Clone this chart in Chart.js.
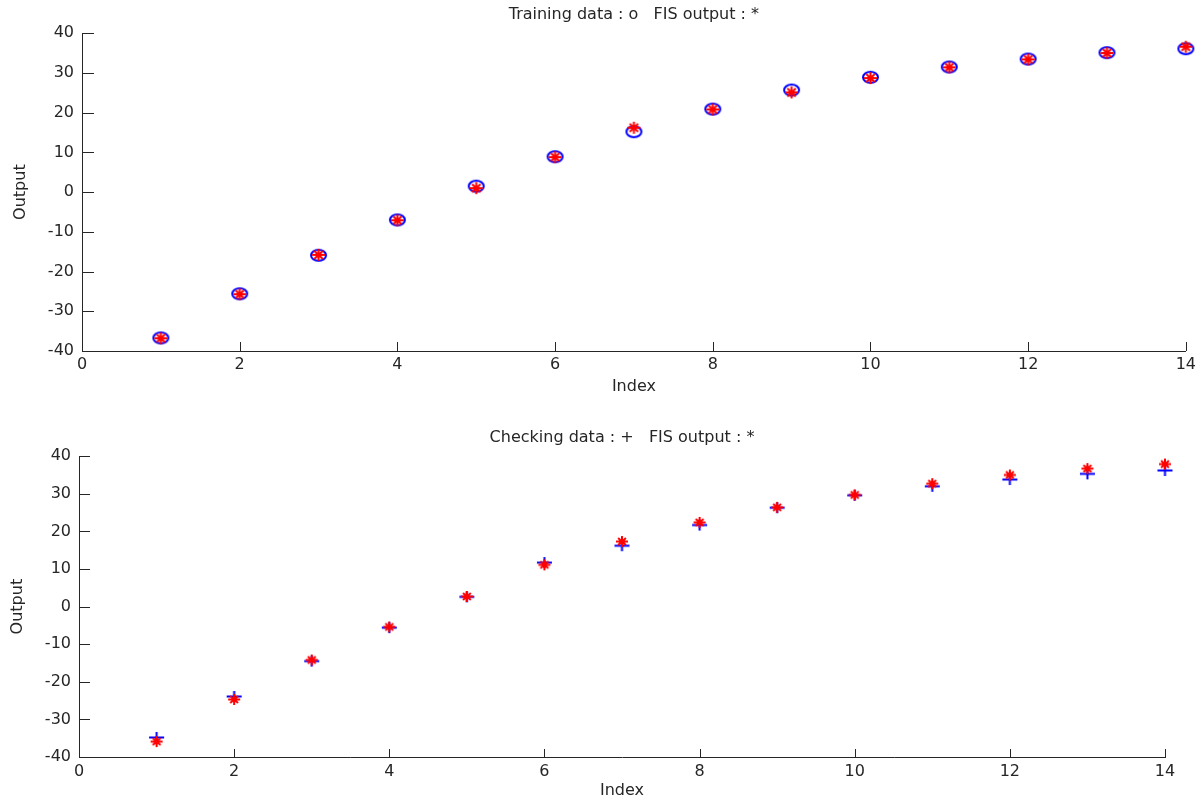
<!DOCTYPE html>
<html>
<head>
<meta charset="utf-8">
<script src="https://cdn.jsdelivr.net/npm/chart.js@4.4.0/dist/chart.umd.min.js"></script>
<style>
  html, body { margin: 0; padding: 0; background: #fff; }
  #wrap { position: relative; width: 1200px; height: 798px; overflow: hidden; }
  .box { position: absolute; left: 0; width: 1200px; }
  #topBox { top: 0; height: 400px; }
  #bottomBox { top: 400px; height: 400px; }
</style>
</head>
<body>
<div id="wrap">
  <div class="box" id="topBox"><canvas id="topChart"></canvas></div>
  <div class="box" id="bottomBox"><canvas id="bottomChart"></canvas></div>
</div>
<script>
// data
const indexValues = [1, 2, 3, 4, 5, 6, 7, 8, 9, 10, 11, 12, 13, 14];
const trainingData = [-36.7, -25.6, -15.9, -7.0, 1.5, 8.9, 15.2, 20.9, 25.7, 28.9, 31.5, 33.5, 35.1, 36.1];
const trainingFis = [-36.8, -25.7, -15.8, -7.1, 1.0, 8.8, 16.2, 20.8, 25.1, 28.7, 31.4, 33.4, 35.0, 36.6];
const checkingData = [-34.8, -23.9, -14.5, -5.6, 2.6, 11.7, 16.2, 21.7, 26.3, 29.6, 32.0, 33.8, 35.3, 36.2];
const checkingFis = [-35.9, -24.7, -14.2, -5.4, 2.7, 11.1, 17.3, 22.4, 26.4, 29.7, 32.7, 35.0, 36.7, 37.9];
const xTicks = [0, 2, 4, 6, 8, 10, 12, 14];
const yTicks = [-40, -30, -20, -10, 0, 10, 20, 30, 40];

const textColor = '#262626';
const axisColor = '#262626';
const fontFamily = '"DejaVu Sans", "Liberation Sans", Arial, sans-serif';
const fontSize = 16;

// matlab style markers (slightly wider than tall, like the screenshot)
function makeMarker(kind, color, w, h) {
  const c = document.createElement('canvas');
  c.width = w + 4;
  c.height = h + 4;
  const g = c.getContext('2d');
  g.strokeStyle = color;
  g.lineWidth = 2;
  const cx = c.width / 2, cy = c.height / 2, rx = w / 2, ry = h / 2;
  g.beginPath();
  if (kind === 'circle') {
    g.ellipse(cx, cy, rx, ry, 0, 0, Math.PI * 2);
  } else {
    g.moveTo(cx - rx, cy); g.lineTo(cx + rx, cy);
    g.moveTo(cx, cy - ry); g.lineTo(cx, cy + ry);
    if (kind === 'star') {
      const dx = rx * 0.65, dy = ry * 0.65;
      g.moveTo(cx - dx, cy - dy); g.lineTo(cx + dx, cy + dy);
      g.moveTo(cx - dx, cy + dy); g.lineTo(cx + dx, cy - dy);
    }
  }
  g.stroke();
  return c;
}

function toPoints(values) {
  return indexValues.map((x, i) => ({x: x, y: values[i]}));
}

// ticks pointing into the plot, like matlab
const inwardTicks = {
  id: 'inwardTicks',
  beforeDatasetsDraw(chart, args, opts) {
    const {ctx, chartArea} = chart;
    const xs = chart.scales.x, ys = chart.scales.y;
    ctx.save();
    ctx.strokeStyle = axisColor;
    ctx.lineWidth = 1;
    ctx.beginPath();
    xs.ticks.forEach(t => {
      const px = Math.round(xs.getPixelForValue(t.value)) + 0.5;
      ctx.moveTo(px, chartArea.bottom);
      ctx.lineTo(px, chartArea.bottom - opts.xLen);
    });
    ys.ticks.forEach(t => {
      const py = Math.round(ys.getPixelForValue(t.value)) + 0.5;
      ctx.moveTo(chartArea.left, py);
      ctx.lineTo(chartArea.left + opts.yLen, py);
    });
    ctx.stroke();
    ctx.restore();
  }
};

function drawPanel(id, s) {
  const config = {
    type: 'scatter',
    data: {
      datasets: [{
        label: 'FIS output',
        data: toPoints(s.fis),
        pointStyle: makeMarker('star', '#ff0000', s.starW, s.starH),
        clip: false
      }, {
        label: s.dataLabel,
        data: toPoints(s.values),
        pointStyle: makeMarker(s.marker, '#0000ff', s.markW, s.markH),
        clip: false
      }]
    },
    options: {
      responsive: true,
      maintainAspectRatio: false,
      animation: false,
      events: [],
      layout: {padding: {left: 0, right: s.padRight, top: 0, bottom: 0}},
      plugins: {
        legend: {display: false},
        tooltip: {enabled: false},
        title: {
          display: true,
          fullSize: false,
          text: s.title,
          color: textColor,
          font: {family: fontFamily, size: fontSize, weight: 'normal'},
          padding: {top: s.titleTop, bottom: s.titleBottom}
        },
        inwardTicks: {xLen: s.xTickLen, yLen: s.yTickLen}
      },
      scales: {
        x: {
          type: 'linear',
          min: 0,
          max: 14,
          afterBuildTicks: sc => { sc.ticks = xTicks.map(v => ({value: v})); },
          afterFit: sc => { sc.height = s.xHeight; },
          grid: {display: false, drawTicks: false},
          border: {display: true, color: axisColor, width: 1},
          ticks: {color: textColor, font: {family: fontFamily, size: fontSize}, padding: s.xPad, maxRotation: 0},
          title: {display: true, text: 'Index', color: textColor,
            font: {family: fontFamily, size: fontSize}, padding: {top: 0, bottom: s.xTitleBottom}}
        },
        y: {
          type: 'linear',
          min: -40,
          max: 40,
          afterBuildTicks: sc => { sc.ticks = yTicks.map(v => ({value: v})); },
          afterFit: sc => { sc.width = s.yWidth; },
          grid: {display: false, drawTicks: false},
          border: {display: true, color: axisColor, width: 1},
          ticks: {color: textColor, font: {family: fontFamily, size: fontSize}, padding: 8},
          title: {display: true, text: 'Output', color: textColor,
            font: {family: fontFamily, size: fontSize}, padding: {top: s.yTitleTop, bottom: 0}}
        }
      }
    },
    plugins: [inwardTicks]
  };
  return new Chart(document.getElementById(id).getContext('2d'), config);
}

drawPanel('topChart', {
  title: 'Training data : o   FIS output : *',
  dataLabel: 'Training data',
  values: trainingData,
  fis: trainingFis,
  marker: 'circle', markW: 15, markH: 11,
  starW: 13, starH: 12,
  padRight: 12, yWidth: 82, xHeight: 49,
  titleTop: 5, titleBottom: 9,
  xPad: 4, xTitleBottom: 4, yTitleTop: 11,
  xTickLen: 9, yTickLen: 12
});

drawPanel('bottomChart', {
  title: 'Checking data : +   FIS output : *',
  dataLabel: 'Checking data',
  values: checkingData,
  fis: checkingFis,
  marker: 'plus', markW: 15, markH: 11,
  starW: 12, starH: 11,
  padRight: 35, yWidth: 79, xHeight: 43,
  titleTop: 28, titleBottom: 9,
  xPad: 5, xTitleBottom: 0, yTitleTop: 8,
  xTickLen: 8, yTickLen: 11
});
</script>
</body>
</html>
